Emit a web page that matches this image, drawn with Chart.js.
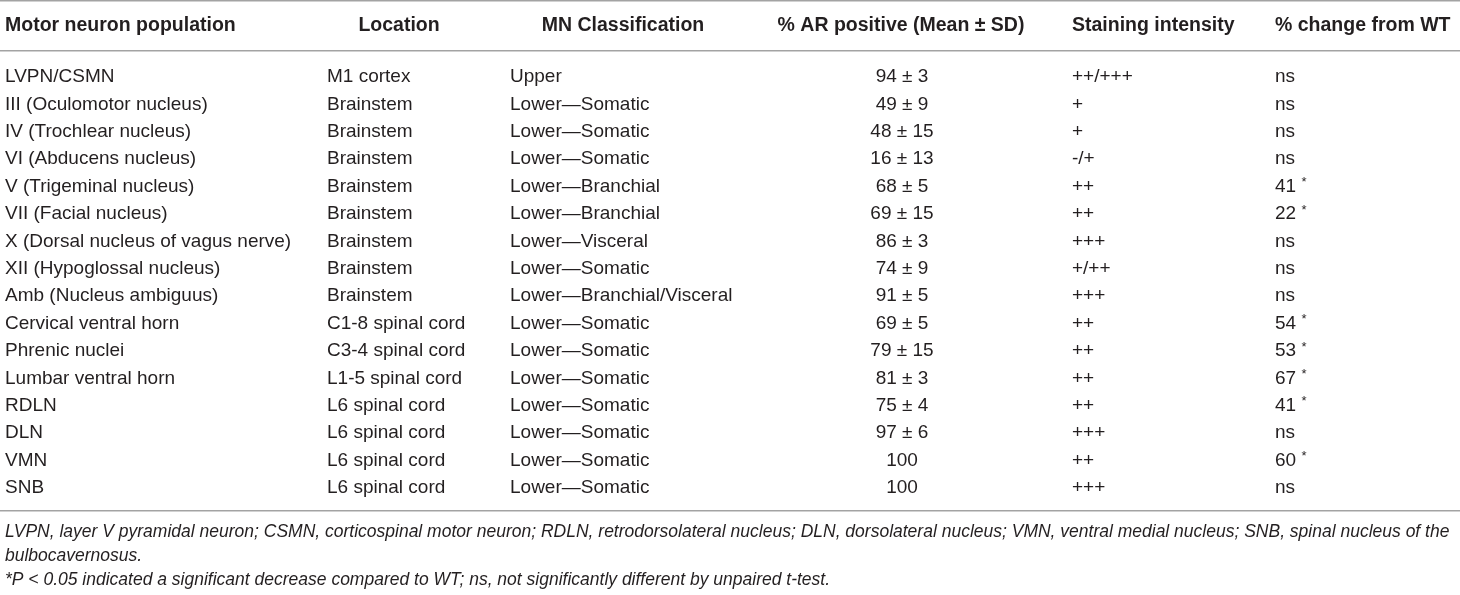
<!DOCTYPE html>
<html>
<head>
<meta charset="utf-8">
<script src="https://cdn.jsdelivr.net/npm/chart.js@4.4.1/dist/chart.umd.min.js"></script>
<style>
  html, body { margin: 0; padding: 0; background: #fff; }
  #wrap { width: 1460px; height: 595px; position: relative; }
</style>
</head>
<body>
<div id="wrap"><canvas id="tableChart"></canvas></div>
<script>
"use strict";

// table content
const headers = ["Motor neuron population", "Location", "MN Classification",
  "% AR positive (Mean \u00b1 SD)", "Staining intensity", "% change from WT"];

const populations = ["LVPN/CSMN", "III (Oculomotor nucleus)", "IV (Trochlear nucleus)",
  "VI (Abducens nucleus)", "V (Trigeminal nucleus)", "VII (Facial nucleus)",
  "X (Dorsal nucleus of vagus nerve)", "XII (Hypoglossal nucleus)", "Amb (Nucleus ambiguus)",
  "Cervical ventral horn", "Phrenic nuclei", "Lumbar ventral horn", "RDLN", "DLN", "VMN", "SNB"];

const locations = ["M1 cortex", "Brainstem", "Brainstem", "Brainstem", "Brainstem", "Brainstem",
  "Brainstem", "Brainstem", "Brainstem", "C1-8 spinal cord", "C3-4 spinal cord",
  "L1-5 spinal cord", "L6 spinal cord", "L6 spinal cord", "L6 spinal cord", "L6 spinal cord"];

const classifications = ["Upper", "Lower\u2014Somatic", "Lower\u2014Somatic", "Lower\u2014Somatic",
  "Lower\u2014Branchial", "Lower\u2014Branchial", "Lower\u2014Visceral", "Lower\u2014Somatic",
  "Lower\u2014Branchial/Visceral", "Lower\u2014Somatic", "Lower\u2014Somatic", "Lower\u2014Somatic",
  "Lower\u2014Somatic", "Lower\u2014Somatic", "Lower\u2014Somatic", "Lower\u2014Somatic"];

const arMean = [94, 49, 48, 16, 68, 69, 86, 74, 91, 69, 79, 81, 75, 97, 100, 100];
const arSD = [3, 9, 15, 13, 5, 15, 3, 9, 5, 5, 15, 3, 4, 6, null, null];

const staining = ["++/+++", "+", "+", "-/+", "++", "++", "+++", "+/++", "+++",
  "++", "++", "++", "++", "+++", "++", "+++"];

// null = ns (not significant), numbers are significant decreases (P < 0.05)
const changeFromWT = [null, null, null, null, 41, 22, null, null, null, 54, 53, 67, 41, null, 60, null];

const footnotes = [
  "LVPN, layer V pyramidal neuron; CSMN, corticospinal motor neuron; RDLN, retrodorsolateral nucleus; DLN, dorsolateral nucleus; VMN, ventral medial nucleus; SNB, spinal nucleus of the",
  "bulbocavernosus.",
  "*P < 0.05 indicated a significant decrease compared to WT; ns, not significantly different by unpaired t-test."
];

// layout (pixels of the 1460x595 picture)
const W = 1460, H = 595;
const firstRowY = 77, rowStep = 27.4;
const headerY = 26;
const rulesY = [1, 51, 511];
const footY = [532, 556, 580];
// x anchor and alignment per column: [bodyX, bodyAlign, headX, headAlign]
const colLayout = [
  [5, "left", 5, "left"],
  [327, "left", 399, "center"],
  [510, "left", 623, "center"],
  [902, "center", 901, "center"],
  [1072, "left", 1072, "left"],
  [1275, "left", 1275, "left"]
];

const bodyFont = "19px 'Liberation Sans', Arial, sans-serif";
const headFont = "bold 19.5px 'Liberation Sans', Arial, sans-serif";
const footFont = "italic 17.5px 'Liberation Sans', Arial, sans-serif";
const starFont = "13px 'Liberation Sans', Arial, sans-serif";
const textColor = "#231f20";
const ruleColor = "#a3a3a3";

// convert pixel row position to row index units of the y scale
function toRow(py) {
  return (py - firstRowY) / rowStep;
}

function cellText(col, i) {
  if (col === 0) return populations[i];
  if (col === 1) return locations[i];
  if (col === 2) return classifications[i];
  if (col === 3) return arSD[i] === null ? String(arMean[i]) : `${arMean[i]} \u00b1 ${arSD[i]}`;
  if (col === 4) return staining[i];
  return changeFromWT[i] === null ? "ns" : String(changeFromWT[i]);
}

const tablePlugin = {
  id: "tableText",
  afterDraw(chart) {
    const ctx = chart.ctx;
    const xs = chart.scales.x, ys = chart.scales.y;
    ctx.save();
    ctx.fillStyle = textColor;
    ctx.textBaseline = "middle";

    // header
    ctx.font = headFont;
    headers.forEach((h, c) => {
      ctx.textAlign = colLayout[c][3];
      ctx.fillText(h, xs.getPixelForValue(colLayout[c][2]), ys.getPixelForValue(toRow(headerY)));
    });

    // body rows
    ctx.font = bodyFont;
    populations.forEach((p, i) => {
      const y = ys.getPixelForValue(i);
      for (let c = 0; c < headers.length; c++) {
        ctx.textAlign = colLayout[c][1];
        const x = xs.getPixelForValue(colLayout[c][0]);
        const txt = cellText(c, i);
        ctx.fillText(txt, x, y);
        if (c === 5 && changeFromWT[i] !== null) {
          const w = ctx.measureText(txt + " ").width;
          ctx.font = starFont;
          ctx.fillText("*", x + w, y - 4);
          ctx.font = bodyFont;
        }
      }
    });

    // footnotes
    ctx.font = footFont;
    ctx.textAlign = "left";
    footnotes.forEach((f, k) => {
      ctx.fillText(f, xs.getPixelForValue(5), ys.getPixelForValue(toRow(footY[k])));
    });
    ctx.restore();
  }
};

function table_init() {
  const config = {
    type: "scatter",
    data: { datasets: [] },
    options: {
      responsive: true,
      maintainAspectRatio: false,
      animation: false,
      layout: { padding: 0 },
      plugins: {
        legend: { display: false },
        tooltip: { enabled: false }
      },
      scales: {
        x: {
          type: "linear",
          display: false,
          min: 0,
          max: W
        },
        y: {
          type: "linear",
          reverse: true,
          min: toRow(0),
          max: toRow(H),
          border: { display: false },
          ticks: { display: false },
          // grid lines at the rule positions give the table's horizontal rules
          afterBuildTicks: (axis) => {
            axis.ticks = rulesY.map(r => ({ value: toRow(r) }));
          },
          grid: {
            drawTicks: false,
            color: ruleColor,
            lineWidth: 1.5
          }
        }
      }
    },
    plugins: [tablePlugin]
  };
  new Chart("tableChart", config);
}

table_init();
</script>
</body>
</html>
